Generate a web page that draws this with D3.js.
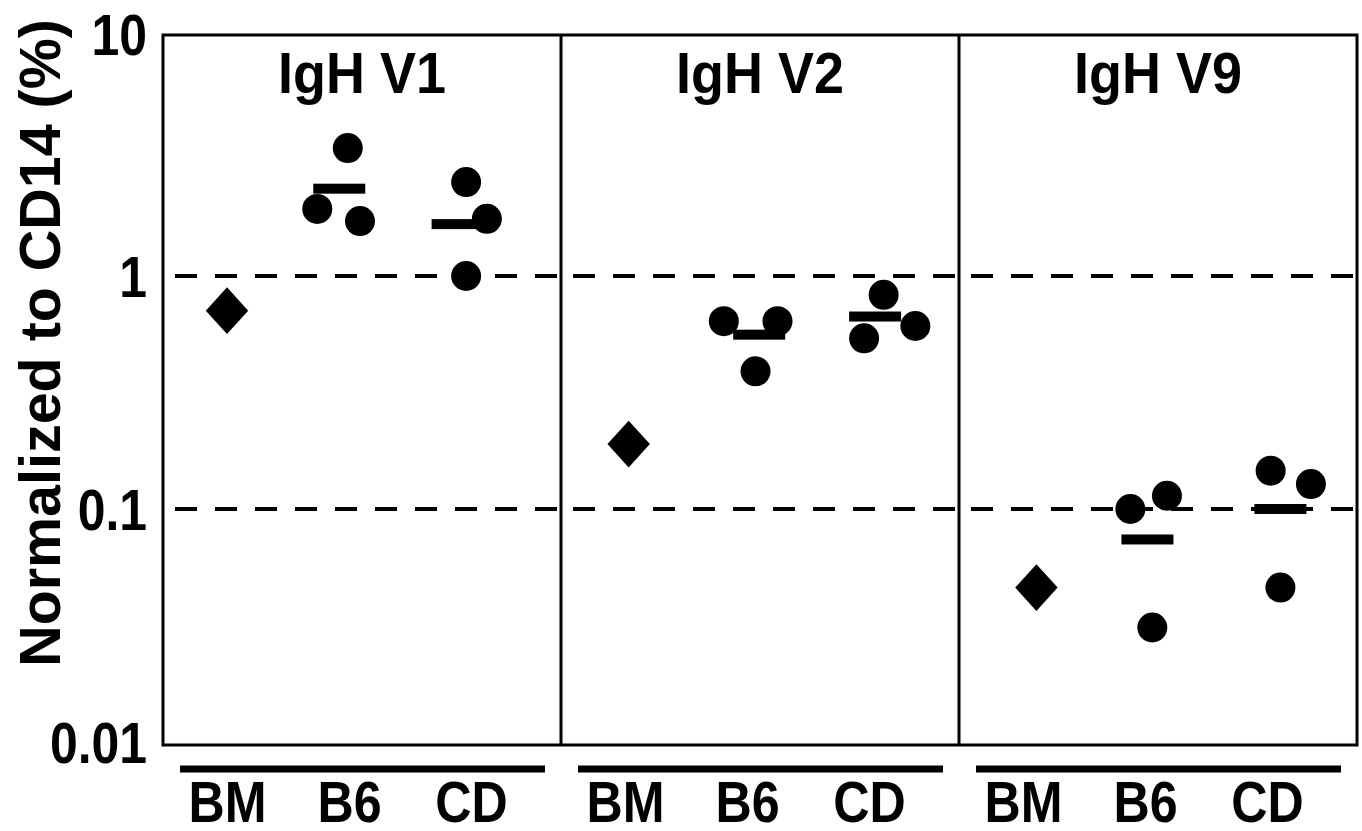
<!DOCTYPE html>
<html>
<head>
<meta charset="utf-8">
<script src="https://cdn.jsdelivr.net/npm/d3@7"></script>
<style>
  body { margin: 0; background: #fff; }
  svg { display: block; }
  text { font-family: "Liberation Sans", Arial, sans-serif; font-weight: bold; fill: #000; }
</style>
</head>
<body>
<svg id="chart" width="1362" height="831"></svg>
<script>
const W = 1362, H = 831;

// data
const panels = ["IgH V1", "IgH V2", "IgH V9"];
const groups = ["BM", "B6", "CD"];
const yTicks = [0.01, 0.1, 1, 10];
const yTickLabels = ["0.01", "0.1", "1", "10"];
const refLines = [0.1, 1];

// BM: one pooled value per panel (diamond)
const bmValues = [0.71, 0.19, 0.046];
const bmJitter = [0, 0.03, 0.11];

// B6 mice, three per panel
const b6Values = [[3.54, 1.94, 1.72], [0.64, 0.64, 0.39], [0.10, 0.114, 0.031]];
const b6Jitter = [[-0.01, -0.26, 0.09], [-0.19, 0.25, 0.07], [-0.12, 0.18, 0.06]];
const b6Means = [2.37, 0.56, 0.074];
const b6MeanJitter = [-0.08, 0.10, 0.02];

// CD mice, three per panel
const cdValues = [[2.53, 1.76, 1.0], [0.83, 0.54, 0.61], [0.146, 0.128, 0.046]];
const cdJitter = [[-0.04, 0.13, -0.04], [0.12, -0.04, 0.38], [0.03, 0.36, 0.11]];
const cdMeans = [1.67, 0.67, 0.10];
const cdMeanJitter = [-0.11, 0.05, 0.11];

const svg = d3.select("#chart");

const plotLeft = 163, plotRight = 1357, plotTop = 35, plotBottom = 745;

const y = d3.scaleLog().domain([0.01, 10]).range([742, 43]);
const xPanel = d3.scaleBand().domain(panels).range([plotLeft, plotRight]).paddingInner(0);
const xInner = d3.scaleLinear().domain([0, 2]).range([64, 308]);

function condense(sel, f) {
  sel.each(function() {
    const len = this.getComputedTextLength();
    d3.select(this).attr("textLength", len * f).attr("lengthAdjust", "spacingAndGlyphs");
  });
}

// dashed reference lines, per panel
panels.forEach(p => {
  const x0 = xPanel(p);
  svg.append("g").selectAll("line")
    .data(refLines)
    .enter()
    .append("line")
    .attr("x1", x0 + 12).attr("x2", x0 + xPanel.bandwidth())
    .attr("y1", d => y(d)).attr("y2", d => y(d))
    .attr("stroke", "#000").attr("stroke-width", 4)
    .attr("stroke-dasharray", "22,18");
});

// frame and dividers
svg.append("rect")
  .attr("x", plotLeft).attr("y", plotTop)
  .attr("width", plotRight - plotLeft).attr("height", plotBottom - plotTop)
  .attr("fill", "none").attr("stroke", "#000").attr("stroke-width", 3);

svg.append("g").selectAll("line")
  .data(panels.slice(1))
  .enter()
  .append("line")
  .attr("x1", d => xPanel(d)).attr("x2", d => xPanel(d))
  .attr("y1", plotTop).attr("y2", plotBottom)
  .attr("stroke", "#000").attr("stroke-width", 3);

// y axis
const yAxis = svg.append("g")
  .attr("transform", `translate(${plotLeft},0)`)
  .call(d3.axisLeft(y).tickValues(yTicks).tickSize(0).tickPadding(16)
    .tickFormat((d, i) => yTickLabels[i]));
yAxis.select(".domain").remove();
yAxis.selectAll("text")
  .style("font-size", "58px")
  .style("font-family", '"Liberation Sans", Arial, sans-serif')
  .style("font-weight", "bold")
  .attr("dy", d => d === 10 ? "0.2em" : "0.36em")
  .call(condense, 0.86);

svg.append("text")
  .attr("transform", `translate(60,343) rotate(-90)`)
  .attr("text-anchor", "middle")
  .style("font-size", "58px")
  .text("Normalized to CD14 (%)")
  .call(condense, 0.99);

// panel titles
svg.append("g").selectAll("text")
  .data(panels)
  .enter()
  .append("text")
  .attr("x", d => xPanel(d) + xPanel.bandwidth() / 2)
  .attr("y", 93)
  .attr("text-anchor", "middle")
  .style("font-size", "58px")
  .text(d => d)
  .call(condense, 0.93);

// group underlines and labels
panels.forEach(p => {
  const x0 = xPanel(p);
  svg.append("line")
    .attr("x1", x0 + 17).attr("x2", x0 + 382)
    .attr("y1", 769).attr("y2", 769)
    .attr("stroke", "#000").attr("stroke-width", 7);

  const xg = d3.scalePoint().domain(groups).range([x0 + xInner(0), x0 + xInner(2)]);
  const ax = svg.append("g")
    .attr("transform", "translate(0,781)")
    .call(d3.axisBottom(xg).tickSize(0).tickPadding(0));
  ax.select(".domain").remove();
  ax.selectAll("text")
    .style("font-size", "57px")
    .style("font-family", '"Liberation Sans", Arial, sans-serif')
    .style("font-weight", "bold")
    .attr("dy", "0.72em")
    .call(condense, 0.88);
});

// points
const diamond = d3.symbol().type(d3.symbolSquare).size(900);

panels.forEach((p, i) => {
  const x0 = xPanel(p);
  const g = svg.append("g");

  g.append("path")
    .attr("d", diamond)
    .attr("transform", `translate(${x0 + xInner(0 + bmJitter[i])},${y(bmValues[i])}) scale(1,1.1) rotate(45)`)
    .attr("fill", "#000");

  const dots = [];
  b6Values[i].forEach((v, k) => dots.push({ c: 1 + b6Jitter[i][k], v: v }));
  cdValues[i].forEach((v, k) => dots.push({ c: 2 + cdJitter[i][k], v: v }));

  g.selectAll("circle")
    .data(dots)
    .enter()
    .append("circle")
    .attr("cx", d => x0 + xInner(d.c))
    .attr("cy", d => y(d.v))
    .attr("r", 15)
    .attr("fill", "#000");

  const means = [
    { c: 1 + b6MeanJitter[i], v: b6Means[i] },
    { c: 2 + cdMeanJitter[i], v: cdMeans[i] }
  ];
  g.selectAll("rect")
    .data(means)
    .enter()
    .append("rect")
    .attr("x", d => x0 + xInner(d.c) - 26)
    .attr("y", d => y(d.v) - 5)
    .attr("width", 52)
    .attr("height", 10)
    .attr("fill", "#000");
});
</script>
</body>
</html>
